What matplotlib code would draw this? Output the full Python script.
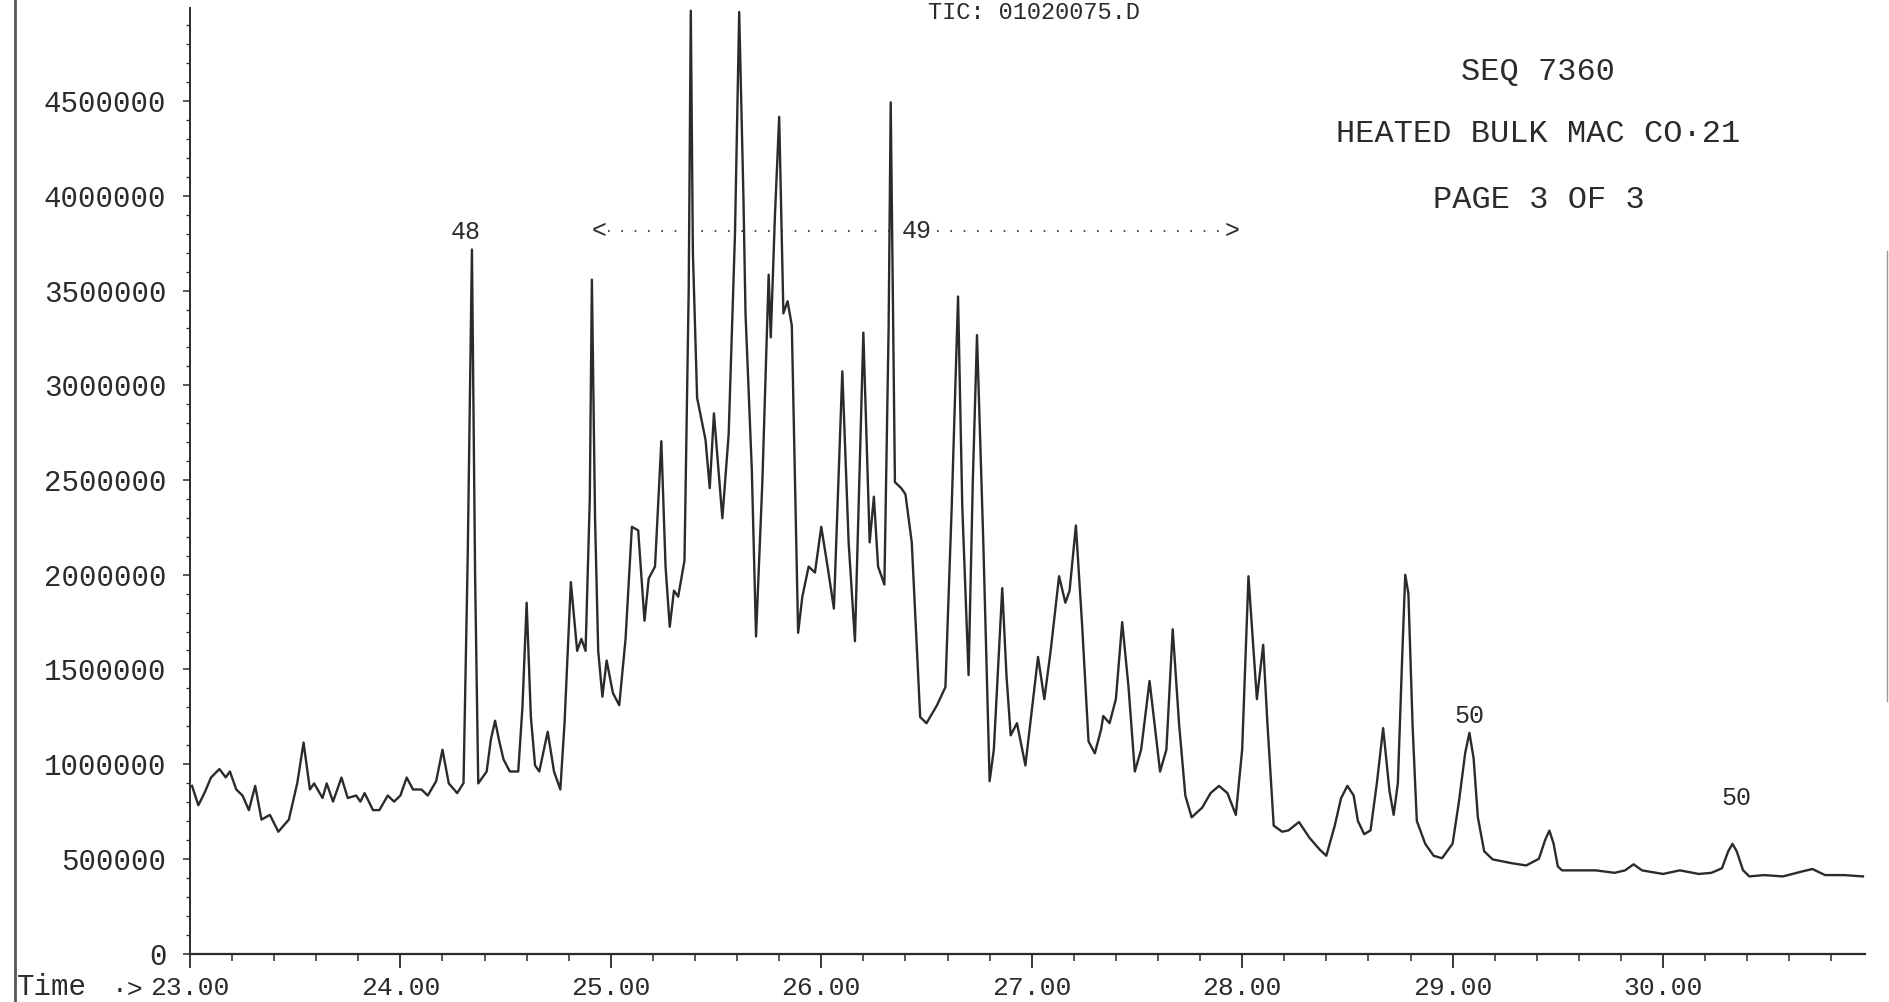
import matplotlib
matplotlib.use("Agg")
import matplotlib.pyplot as plt
from matplotlib.ticker import MultipleLocator, FormatStrFormatter
from matplotlib.lines import Line2D

# retention time (min) and abundance
time_min = [
    23.01, 23.04, 23.07, 23.10, 23.14, 23.17, 23.19, 23.22, 23.25, 23.28,
    23.31, 23.34, 23.38, 23.42, 23.47, 23.51, 23.54, 23.57, 23.59, 23.63,
    23.65, 23.68, 23.72, 23.75, 23.79, 23.81, 23.83, 23.87, 23.90, 23.94,
    23.97, 24.00, 24.03, 24.06, 24.10, 24.13, 24.17, 24.20, 24.23, 24.27,
    24.30, 24.32, 24.34, 24.355, 24.37, 24.41, 24.43, 24.45, 24.47, 24.49,
    24.52, 24.56, 24.58, 24.60, 24.62, 24.64, 24.66, 24.70, 24.73, 24.76,
    24.78, 24.81, 24.84, 24.86, 24.88, 24.90, 24.91, 24.925, 24.94, 24.96,
    24.98, 25.01, 25.04, 25.07, 25.10, 25.13, 25.16, 25.18, 25.21, 25.24,
    25.26, 25.28, 25.30, 25.32, 25.35, 25.37, 25.38, 25.39, 25.41, 25.45,
    25.47, 25.49, 25.53, 25.56, 25.59, 25.61, 25.63, 25.64, 25.67, 25.69,
    25.72, 25.75, 25.76, 25.78, 25.80, 25.82, 25.84, 25.86, 25.89, 25.91,
    25.94, 25.97, 26.00, 26.03, 26.06, 26.10, 26.13, 26.16, 26.20, 26.23,
    26.25, 26.27, 26.30, 26.32, 26.33, 26.34, 26.35, 26.38, 26.40, 26.43,
    26.47, 26.50, 26.55, 26.59, 26.62, 26.65, 26.67, 26.70, 26.72, 26.74,
    26.77, 26.80, 26.82, 26.86, 26.88, 26.90, 26.93, 26.97, 27.00, 27.03,
    27.06, 27.09, 27.13, 27.16, 27.18, 27.21, 27.24, 27.27, 27.30, 27.33,
    27.34, 27.37, 27.40, 27.43, 27.46, 27.49, 27.52, 27.56, 27.59, 27.61,
    27.64, 27.67, 27.70, 27.73, 27.76, 27.81, 27.85, 27.89, 27.93, 27.97,
    28.00, 28.03, 28.07, 28.10, 28.12, 28.15, 28.19, 28.22, 28.27, 28.32,
    28.37, 28.40, 28.44, 28.47, 28.50, 28.53, 28.55, 28.58, 28.61, 28.64,
    28.67, 28.70, 28.72, 28.74, 28.76, 28.775, 28.79, 28.81, 28.83, 28.87,
    28.91, 28.95, 29.00, 29.03, 29.06, 29.08, 29.10, 29.12, 29.15, 29.19,
    29.28, 29.35, 29.41, 29.44, 29.46, 29.48, 29.50, 29.52, 29.60, 29.68,
    29.77, 29.82, 29.86, 29.90, 30.00, 30.08, 30.17, 30.23, 30.28, 30.31,
    30.33, 30.35, 30.38, 30.41, 30.48, 30.57, 30.66, 30.71, 30.77, 30.86,
    30.95,
]
abundance = [
    885000, 783000, 850000, 929000, 974000, 930000, 961000, 866000, 834000, 757000,
    885000, 707000, 732000, 643000, 707000, 900000, 1114000, 866000, 898000, 821000,
    898000, 802000, 929000, 821000, 834000, 802000, 847000, 757000, 757000, 834000,
    802000, 834000, 929000, 866000, 866000, 834000, 910000, 1076000, 898000, 847000,
    900000, 2100000, 3717000, 2000000, 898000, 961000, 1130000, 1229000, 1120000, 1025000,
    961000, 961000, 1300000, 1852000, 1250000, 993000, 961000, 1171000, 961000, 866000,
    1216000, 1961000, 1598000, 1661000, 1598000, 2400000, 3558000, 2300000, 1598000, 1356000,
    1547000, 1375000, 1311000, 1661000, 2253000, 2234000, 1757000, 1980000, 2043000, 2705000,
    2043000, 1725000, 1916000, 1884000, 2075000, 3500000, 4978000, 3700000, 2934000, 2712000,
    2457000, 2852000, 2298000, 2743000, 3800000, 4971000, 4000000, 3380000, 2553000, 1674000,
    2489000, 3584000, 3253000, 3900000, 4418000, 3380000, 3444000, 3316000, 1693000, 1884000,
    2043000, 2011000, 2253000, 2043000, 1821000, 3074000, 2171000, 1649000, 3278000, 2171000,
    2412000, 2043000, 1948000, 3300000, 4494000, 3500000, 2489000, 2457000, 2425000, 2171000,
    1248000, 1216000, 1311000, 1407000, 2362000, 3469000, 2362000, 1470000, 2489000, 3265000,
    2171000, 910000, 1076000, 1929000, 1470000, 1152000, 1216000, 993000, 1279000, 1566000,
    1343000, 1598000, 1992000, 1852000, 1916000, 2260000, 1725000, 1120000, 1057000, 1184000,
    1254000, 1216000, 1343000, 1750000, 1407000, 961000, 1076000, 1439000, 1152000, 961000,
    1076000, 1712000, 1216000, 834000, 719000, 770000, 847000, 885000, 847000, 732000,
    1076000, 1992000, 1343000, 1630000, 1216000, 675000, 643000, 650000, 694000, 611000,
    547000, 516000, 675000, 820000, 885000, 834000, 700000, 630000, 650000, 898000,
    1190000, 860000, 732000, 900000, 1550000, 2000000, 1900000, 1200000, 700000, 579000,
    516000, 503000, 580000, 800000, 1060000, 1165000, 1030000, 720000, 540000, 497000,
    477000, 465000, 500000, 600000, 649000, 580000, 460000, 439000, 439000, 439000,
    426000, 439000, 471000, 439000, 420000, 439000, 420000, 426000, 450000, 540000,
    579000, 540000, 440000, 407000, 414000, 407000, 433000, 446000, 414000, 414000,
    407000,
]

x_ticks = [23, 24, 25, 26, 27, 28, 29, 30]
y_ticks = [0, 500000, 1000000, 1500000, 2000000, 2500000, 3000000, 3500000, 4000000, 4500000]

# peak labels: (text, time, height)
peak_labels = [("48", 24.31, 3810000), ("50", 29.08, 1254000), ("50", 30.35, 820000)]
range_49 = (24.945, 27.95, 3813000)

header_lines = ["SEQ 7360", "HEATED BULK MAC CO·21", "PAGE 3 OF 3"]

mono = "Liberation Mono"
ink = "#2b2b2b"

fig = plt.figure(figsize=(18.9, 10.02), dpi=100)
ax = fig.add_axes([0.1005, 0.0484, 0.8863, 0.9432])

ax.plot(time_min, abundance, color=ink, lw=1.7, solid_joinstyle="round")

ax.set_xlim(23, 30.96)
ax.set_ylim(0, 4990000)

ax.spines["top"].set_visible(False)
ax.spines["right"].set_visible(False)
ax.spines["left"].set_color(ink)
ax.spines["bottom"].set_color(ink)
ax.spines["left"].set_linewidth(1.4)
ax.spines["bottom"].set_linewidth(1.6)

ax.set_xticks(x_ticks)
ax.xaxis.set_major_formatter(FormatStrFormatter("%.2f"))
ax.xaxis.set_minor_locator(MultipleLocator(0.2))
ax.set_yticks(y_ticks)
ax.yaxis.set_major_formatter(FormatStrFormatter("%d"))
ax.yaxis.set_minor_locator(MultipleLocator(100000))

ax.tick_params(axis="x", which="major", direction="out", length=10, width=1.3,
               color=ink, pad=6, labelsize=19, labelcolor=ink)
ax.tick_params(axis="x", which="minor", direction="out", length=5, width=1.1, color=ink)
ax.tick_params(axis="y", which="major", direction="out", length=5, width=1.1,
               color=ink, pad=12, labelsize=21, labelcolor=ink)
ax.tick_params(axis="y", which="minor", direction="out", length=3, width=0.9, color=ink)
for lab in ax.get_xticklabels() + ax.get_yticklabels():
    lab.set_family(mono)

fig.text(0.009, 0.0005, "Time", ha="left", va="bottom", fontsize=21,
         family=mono, color=ink)
fig.text(0.059, 0.0005, "·>", ha="left", va="bottom", fontsize=19,
         family=mono, color=ink)

for txt, t, h in peak_labels:
    ax.text(t, h, txt, ha="center", va="center", fontsize=18, family=mono, color=ink)

t0, t1, h49 = range_49
ax.plot([t0 + 0.04, 26.37], [h49, h49], color=ink, lw=1.2, linestyle=(0, (1, 7)))
ax.plot([26.55, t1 - 0.04], [h49, h49], color=ink, lw=1.2, linestyle=(0, (1, 7)))
ax.text(t0, h49, "<", ha="center", va="center", fontsize=18, family=mono, color=ink)
ax.text(t1, h49, ">", ha="center", va="center", fontsize=18, family=mono, color=ink)
ax.text(26.455, h49, "49", ha="center", va="center", fontsize=18, family=mono, color=ink)

for i, line in enumerate(header_lines):
    fig.text(0.814, [0.928, 0.866, 0.80][i], line, ha="center", va="center",
             fontsize=23, family=mono, color=ink)

# header at the very top of the scan
fig.text(0.547, 0.999, "TIC: 01020075.D", ha="center", va="top",
         fontsize=17, family=mono, color=ink)

# scanned page edges
fig.add_artist(Line2D([0.0077, 0.0077], [0, 1], transform=fig.transFigure,
                      color="#555555", lw=2))
fig.add_artist(Line2D([0.9985, 0.9985], [0.3, 0.75], transform=fig.transFigure,
                      color="#999999", lw=1))

fig.savefig("out.png", dpi=100, facecolor="white")
